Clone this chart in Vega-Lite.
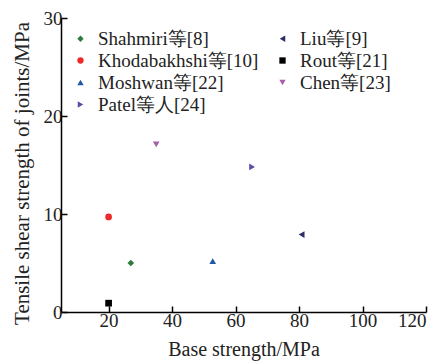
{
  "$schema": "https://vega.github.io/schema/vega-lite/v6.json",
  "autosize": "none",
  "width": 365,
  "height": 294,
  "padding": {"left": 61, "top": 18, "right": 10, "bottom": 52},
  "background": "white",
  "config": {
    "view": {"stroke": null},
    "font": "Liberation Serif",
    "axis": {
      "labelFont": "Liberation Serif",
      "titleFont": "Liberation Serif"
    },
    "legend": {
      "orient": "none",
      "legendX": 10,
      "legendY": 11,
      "columns": 2,
      "columnPadding": 14,
      "rowPadding": 2,
      "symbolSize": 40,
      "labelFont": "Liberation Serif",
      "labelFontSize": 19,
      "labelColor": "#222",
      "labelOffset": 8,
      "labelLimit": 300
    }
  },
  "data": {
    "values": [
      {"study": "Shahmiri等[8]", "base": 27, "shear": 5.0},
      {"study": "Liu等[9]", "base": 80.8, "shear": 7.9},
      {"study": "Khodabakhshi等[10]", "base": 20, "shear": 9.7},
      {"study": "Rout等[21]", "base": 20, "shear": 0.9},
      {"study": "Moshwan等[22]", "base": 52.8, "shear": 5.2},
      {"study": "Chen等[23]", "base": 35, "shear": 17.1},
      {"study": "Patel等人[24]", "base": 65.2, "shear": 14.8}
    ]
  },
  "mark": {"type": "point", "filled": true, "opacity": 1, "size": 45},
  "encoding": {
    "x": {
      "field": "base", "type": "quantitative",
      "scale": {"domain": [5, 120], "nice": false, "zero": false},
      "axis": {
        "title": "Base strength/MPa",
        "values": [20, 40, 60, 80, 100, 120],
        "grid": false,
        "domainColor": "black", "domainWidth": 1.5,
        "tickColor": "black", "tickWidth": 1.5, "tickSize": -6,
        "labelFontSize": 19, "labelColor": "#222",
        "labelPadding": 5,
        "titleFontSize": 20, "titleFontWeight": "normal", "titleColor": "#222",
        "titlePadding": 9
      }
    },
    "y": {
      "field": "shear", "type": "quantitative",
      "scale": {"domain": [0, 30], "nice": false},
      "axis": {
        "title": "Tensile shear strength of joints/MPa",
        "values": [0, 10, 20, 30],
        "grid": false,
        "domainColor": "black", "domainWidth": 1.5,
        "tickColor": "black", "tickWidth": 1.5, "tickSize": -6,
        "labelFontSize": 19, "labelColor": "#222",
        "labelPadding": 5,
        "titleFontSize": 21, "titleFontWeight": "normal", "titleColor": "#222",
        "titlePadding": 11,
        "titleY": 155
      }
    },
    "color": {
      "field": "study", "type": "nominal",
      "scale": {
        "domain": ["Shahmiri等[8]", "Khodabakhshi等[10]", "Moshwan等[22]", "Patel等人[24]", "Liu等[9]", "Rout等[21]", "Chen等[23]"],
        "range": ["#2e7a3c", "#ec2a2a", "#2159a8", "#5b4ca6", "#2c2c66", "#000000", "#a65faa"]
      },
      "legend": {"title": null}
    },
    "shape": {
      "field": "study", "type": "nominal",
      "scale": {
        "domain": ["Shahmiri等[8]", "Khodabakhshi等[10]", "Moshwan等[22]", "Patel等人[24]", "Liu等[9]", "Rout等[21]", "Chen等[23]"],
        "range": ["diamond", "circle", "triangle-up", "triangle-right", "triangle-left", "square", "triangle-down"]
      },
      "legend": {"title": null}
    }
  }
}
